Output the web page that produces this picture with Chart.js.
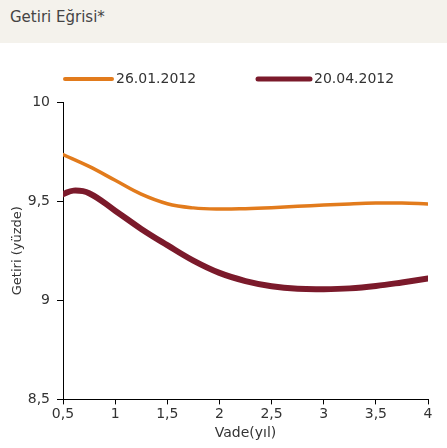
<!DOCTYPE html>
<html>
<head>
<meta charset="utf-8">
<script src="https://cdn.jsdelivr.net/npm/chart.js@4/dist/chart.umd.min.js"></script>
<style>
  html, body { margin: 0; padding: 0; background: #ffffff; }
  body { width: 447px; height: 448px; overflow: hidden; font-family: "DejaVu Sans", sans-serif; }
  #header { height: 43px; background: #f4f2ec; color: #444444; font-size: 15px; line-height: 15px; padding: 10px 0 0 10px; box-sizing: border-box; }
  #wrap { position: relative; width: 447px; height: 405px; }
</style>
</head>
<body>
<div id="header">Getiri Eğrisi*</div>
<div id="wrap"><canvas id="c" width="447" height="405"></canvas></div>
<script>
// Yield curve by maturity (years), two observation dates
const seriesLabels = ['26.01.2012', '20.04.2012'];
const maturitiesJan = [0.5, 0.75, 1, 1.25, 1.5, 1.75, 2, 2.25, 2.5, 2.75, 3, 3.25, 3.5, 3.75, 4];
const yieldJan = [9.735, 9.675, 9.605, 9.535, 9.487, 9.466, 9.46, 9.462, 9.467, 9.474, 9.48, 9.486, 9.49, 9.49, 9.486];
const maturitiesApr = [0.5, 0.6, 0.75, 1, 1.25, 1.5, 1.75, 2, 2.25, 2.5, 2.75, 3, 3.25, 3.5, 3.75, 4];
const yieldApr = [9.535, 9.553, 9.54, 9.452, 9.36, 9.278, 9.20, 9.138, 9.097, 9.071, 9.058, 9.056, 9.06, 9.072, 9.09, 9.11];
const yTicks = [8.5, 9, 9.5, 10];
const xTicks = [0.5, 1, 1.5, 2, 2.5, 3, 3.5, 4];

const colors = ['#e27b1c', '#7b1a2b'];
const widths = [3.5, 6];
const legendWidths = [4, 5];
const toPoints = (xs, ys) => xs.map((m, i) => ({ x: m, y: ys[i] }));
const fmt = v => String(v).replace('.', ',');
const textColor = '#333333';
const fontFamily = '"DejaVu Sans", sans-serif';
const font = { family: fontFamily, size: 14 };

// legend row: a short stroke in the series colour followed by its label
const legendRow = {
  id: 'legendRow',
  afterDraw(chart) {
    const ctx = chart.ctx;
    const left = chart.chartArea.left;
    const starts = [0, 193];
    const lens = [51, 56];
    const y = 36;
    chart.data.datasets.forEach((ds, i) => {
      const x0 = left + starts[i];
      ctx.save();
      ctx.strokeStyle = ds.borderColor;
      ctx.lineWidth = legendWidths[i];
      ctx.lineCap = 'round';
      ctx.beginPath();
      ctx.moveTo(x0 + 2, y);
      ctx.lineTo(x0 + lens[i] - 2, y);
      ctx.stroke();
      ctx.fillStyle = textColor;
      ctx.font = '14px ' + fontFamily;
      ctx.textBaseline = 'middle';
      ctx.textAlign = 'left';
      ctx.fillText(ds.label, x0 + lens[i] + 2, y);
      ctx.restore();
    });
  }
};

new Chart(document.getElementById('c'), {
  type: 'line',
  data: {
    datasets: [[maturitiesJan, yieldJan], [maturitiesApr, yieldApr]].map(([xs, ys], i) => ({
      label: seriesLabels[i],
      data: toPoints(xs, ys),
      borderColor: colors[i],
      backgroundColor: colors[i],
      borderWidth: widths[i],
      pointRadius: 0,
      tension: 0.4,
      borderCapStyle: 'round',
      fill: false
    }))
  },
  plugins: [legendRow],
  options: {
    responsive: false,
    animation: false,
    layout: { padding: { left: 10, right: 19, top: 59, bottom: 6 } },
    plugins: {
      tooltip: { enabled: false },
      legend: { display: false }
    },
    scales: {
      x: {
        type: 'linear',
        min: 0.5,
        max: 4,
        afterBuildTicks: s => { s.ticks = xTicks.map(v => ({ value: v })); },
        ticks: { color: textColor, font: font, padding: 2, callback: v => fmt(v), maxRotation: 0 },
        grid: { drawOnChartArea: false, drawTicks: true, tickLength: 5, color: '#000000', lineWidth: 1 },
        border: { display: true, color: '#000000', width: 1 },
        title: { display: true, text: 'Vade(yıl)', color: textColor, font: font, padding: { top: 0, bottom: 0 } }
      },
      y: {
        min: 8.5,
        max: 10,
        afterBuildTicks: s => { s.ticks = yTicks.map(v => ({ value: v })); },
        ticks: { color: textColor, font: font, padding: 7, callback: v => fmt(v) },
        grid: { drawOnChartArea: false, drawTicks: true, tickLength: 6, color: '#000000', lineWidth: 1 },
        border: { display: true, color: '#000000', width: 1 },
        title: { display: true, text: 'Getiri (yüzde)', color: textColor, font: { family: fontFamily, size: 13 }, padding: { top: 0, bottom: 0 } },
        afterFit: s => { s.width = 53; }
      }
    }
  }
});
</script>
</body>
</html>
